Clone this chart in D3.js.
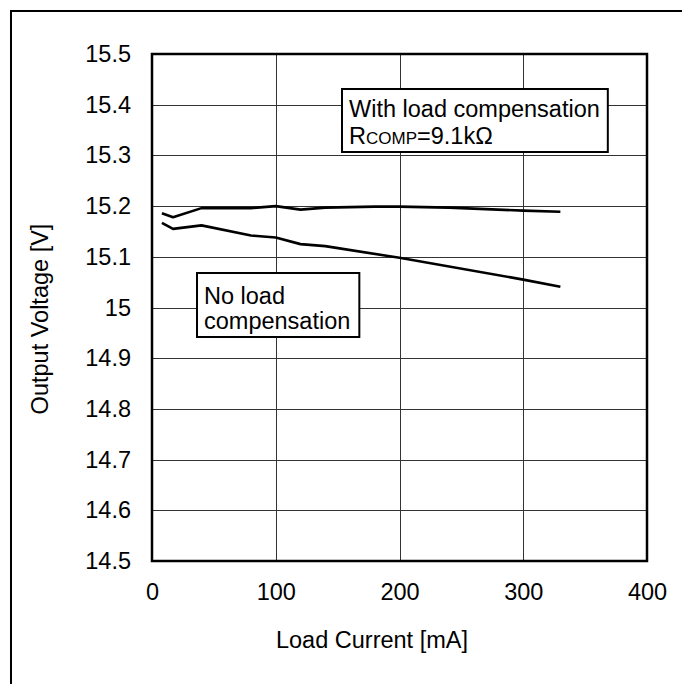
<!DOCTYPE html>
<html><head><meta charset="utf-8">
<script src="https://cdn.jsdelivr.net/npm/d3@7"></script>
<style>body{margin:0;background:#fff}svg{display:block}text{font-family:Arial,"Liberation Sans",sans-serif;fill:#000}</style>
</head><body>
<script>
const xTicks = [0, 100, 200, 300, 400];
const yTicks = [14.5, 14.6, 14.7, 14.8, 14.9, 15, 15.1, 15.2, 15.3, 15.4, 15.5];
const withCompCurrent = [8, 17, 40, 80, 100, 120, 140, 180, 200, 240, 300, 330];
const withCompVoltage = [15.186, 15.178, 15.196, 15.196, 15.2, 15.193, 15.197, 15.199, 15.199, 15.197, 15.191, 15.189];
const noCompCurrent = [8, 17, 40, 80, 100, 120, 140, 200, 300, 330];
const noCompVoltage = [15.167, 15.155, 15.162, 15.142, 15.138, 15.125, 15.121, 15.098, 15.055, 15.041];
const xTitle = "Load Current [mA]";
const yTitle = "Output Voltage [V]";

const W = 682, H = 684;
const svg = d3.select("body").append("svg").attr("width", W).attr("height", H);
const L = 152, R = 647, T = 54, B = 561;
const x = d3.scaleLinear().domain([0, 400]).range([L, R]);
const y = d3.scaleLinear().domain([14.5, 15.5]).range([B, T]);
const fs = 23.5;

// outer frame
svg.append("rect").attr("x", 11).attr("y", 11).attr("width", 700).attr("height", 700)
  .attr("fill", "none").attr("stroke", "#000").attr("stroke-width", 2);

// grid
svg.append("g").selectAll("line").data(yTicks.slice(1, -1)).join("line")
  .attr("x1", L).attr("x2", R).attr("y1", d => Math.round(y(d)) + 0.5).attr("y2", d => Math.round(y(d)) + 0.5)
  .attr("stroke", "#333").attr("stroke-width", 1);
svg.append("g").selectAll("line").data(xTicks.slice(1, -1)).join("line")
  .attr("y1", T).attr("y2", B).attr("x1", d => Math.round(x(d)) + 0.5).attr("x2", d => Math.round(x(d)) + 0.5)
  .attr("stroke", "#333").attr("stroke-width", 1);

// axes via d3
const xAxis = d3.axisBottom(x).tickValues(xTicks).tickSize(0).tickPadding(22).tickFormat(d3.format("d"));
const gx = svg.append("g").attr("transform", `translate(0,${B})`).call(xAxis);
gx.select(".domain").remove();
gx.selectAll("text").attr("font-size", fs).attr("font-family", "Arial, 'Liberation Sans', sans-serif").attr("dy", "0.35em").attr("y", 31);

const yAxis = d3.axisLeft(y).tickValues(yTicks).tickSize(0).tickPadding(21).tickFormat(d => d3.format("")(+d.toFixed(1)));
const gy = svg.append("g").attr("transform", `translate(${L},0)`).call(yAxis);
gy.select(".domain").remove();
gy.selectAll("text").attr("font-size", fs).attr("font-family", "Arial, 'Liberation Sans', sans-serif");

// plot frame
svg.append("rect").attr("x", L).attr("y", T).attr("width", R - L).attr("height", B - T)
  .attr("fill", "none").attr("stroke", "#000").attr("stroke-width", 2.5);

// lines
const line = d3.line().x(d => x(d[0])).y(d => y(d[1]));
svg.append("path").datum(withCompCurrent.map((c, i) => [c, withCompVoltage[i]]))
  .attr("d", line).attr("fill", "none").attr("stroke", "#000").attr("stroke-width", 2.6).attr("stroke-linejoin", "round");
svg.append("path").datum(noCompCurrent.map((c, i) => [c, noCompVoltage[i]]))
  .attr("d", line).attr("fill", "none").attr("stroke", "#000").attr("stroke-width", 2.6).attr("stroke-linejoin", "round");

// titles
svg.append("text").attr("x", 372).attr("y", 640).attr("dy", "0.35em").attr("text-anchor", "middle")
  .attr("font-size", fs).text(xTitle);
svg.append("text").attr("transform", "translate(40,319) rotate(-90)").attr("dy", "0.35em").attr("text-anchor", "middle")
  .attr("font-size", fs).text(yTitle);

// annotation boxes
const b1 = svg.append("g");
const t1 = b1.append("text").attr("x", 349).attr("y", 117).attr("font-size", fs);
t1.append("tspan").text("With load compensation");
const t1b = b1.append("text").attr("x", 349).attr("y", 144).attr("font-size", fs);
t1b.append("tspan").text("R");
t1b.append("tspan").attr("font-size", 17).text("COMP");
t1b.append("tspan").text("=9.1kΩ");
const bb1 = t1.node().getBBox();
b1.insert("rect", "text").attr("x", 342).attr("y", 89).attr("width", bb1.x + bb1.width + 8 - 342).attr("height", 63)
  .attr("fill", "#fff").attr("stroke", "#000").attr("stroke-width", 2);

const b2 = svg.append("g");
const t2 = b2.append("text").attr("x", 204).attr("y", 304).attr("font-size", fs).text("No load");
const t2b = b2.append("text").attr("x", 204).attr("y", 329).attr("font-size", fs).text("compensation");
const bb2 = t2b.node().getBBox();
b2.insert("rect", "text").attr("x", 197).attr("y", 273).attr("width", bb2.x + bb2.width + 9 - 197).attr("height", 64)
  .attr("fill", "#fff").attr("stroke", "#000").attr("stroke-width", 2);
</script>
</body></html>
